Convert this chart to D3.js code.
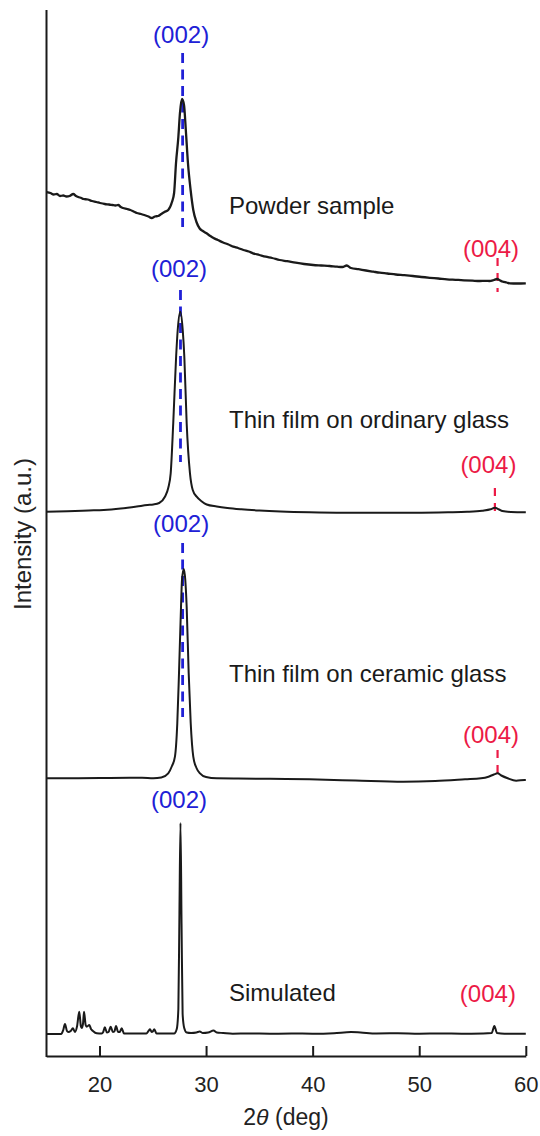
<!DOCTYPE html>
<html>
<head>
<meta charset="utf-8">
<script src="https://cdn.jsdelivr.net/npm/d3@7"></script>
<style>
  html, body { margin: 0; padding: 0; background: #ffffff; }
  svg { display: block; font-family: "Liberation Sans", Arial, sans-serif; }
</style>
</head>
<body>
<svg id="chart" width="540" height="1136"></svg>
<script>
// XRD patterns, 2θ in degrees, intensity in arbitrary units (each trace stacked by its offset)
const seriesNames = ["Powder sample", "Thin film on ordinary glass", "Thin film on ceramic glass", "Simulated"];
const seriesOffsets = [773, 544, 277, 22];

const powder = [
  [15.05, 91], [15.4, 90], [15.7, 88.5], [16.0, 89], [16.3, 87], [16.6, 87.5], [16.9, 86.5],
  [17.2, 87], [17.54, 89], [17.8, 87], [18.0, 86], [18.3, 85], [18.5, 84], [18.9, 83.5],
  [19.3, 82], [19.7, 81], [20.05, 80], [20.5, 79], [20.9, 78.5], [21.2, 78], [21.5, 77.5],
  [21.76, 78], [22.0, 76], [22.2, 75], [22.6, 74], [22.9, 73], [23.2, 71.5], [23.5, 70],
  [23.9, 69], [24.2, 68], [24.6, 66.5], [24.9, 65], [25.2, 66.5], [25.5, 67], [25.8, 69],
  [26.1, 71], [26.45, 73], [26.8, 81], [27.0, 90], [27.18, 120], [27.4, 146], [27.55, 170],
  [27.74, 184], [27.93, 178], [28.1, 153], [28.3, 120], [28.55, 93], [28.8, 73], [29.1, 61],
  [29.4, 54.5], [29.7, 52], [30.0, 50], [30.4, 47], [30.7, 45], [31.1, 43], [31.6, 40.5],
  [32.1, 38.5], [32.55, 36.3], [33.0, 35], [33.5, 33], [34.0, 31.5], [34.4, 29.7], [35.0, 28],
  [35.6, 26.3], [36.2, 25], [36.9, 23], [37.6, 21.8], [38.4, 20.3], [39.2, 19], [40.05, 18],
  [40.8, 17.5], [41.6, 17], [42.3, 16.3], [42.8, 16], [43.2, 17.5], [43.6, 15], [44.3, 13.8],
  [45.0, 12.5], [45.7, 11.3], [46.3, 10.3], [47.0, 9.5], [47.8, 8.5], [48.6, 7.8], [49.4, 7],
  [50.2, 6], [51.0, 5.2], [51.8, 4.5], [52.6, 3.7], [53.4, 3.2], [54.2, 2.7], [55.0, 2.3],
  [55.7, 2], [56.2, 2.2], [56.6, 2], [57.0, 3], [57.3, 4], [57.6, 2.5], [57.8, 1.5],
  [58.2, 0.5], [58.5, -0.3], [59.2, -0.5], [60.0, -0.3]
];

const ordinaryGlass = [
  [15.0, 0.3], [17.0, 0.8], [19.0, 1.5], [20.4, 2], [22.0, 3.5], [23.5, 5.5], [24.5, 7],
  [25.05, 7.5], [25.6, 9], [26.14, 15.3], [26.45, 24], [26.68, 38.7], [26.92, 88.7],
  [27.19, 155.3], [27.34, 182], [27.58, 200.3], [27.81, 182], [27.96, 155.3], [28.18, 88.7],
  [28.49, 38.7], [28.75, 22], [29.12, 15.3], [29.6, 10.5], [30.06, 7.5], [31.0, 5.5],
  [32.0, 4], [33.3, 2.7], [35.0, 1.5], [37.0, 0.5], [39.7, -0.3], [43.0, -0.7], [46.2, -0.7],
  [49.5, -0.7], [52.7, -0.3], [54.5, 0.2], [55.9, 1.3], [56.7, 2.7], [57.1, 4.3], [57.5, 2.5],
  [57.8, 1], [58.6, 0], [59.8, -0.3], [60.0, -0.3]
];

const ceramicGlass = [
  [15.0, 0.7], [18.0, 0.8], [21.0, 1], [24.0, 1.2], [25.05, 0.7], [25.8, 1.5], [26.45, 5.7],
  [26.8, 13], [27.08, 22.3], [27.30, 55.7], [27.46, 105.7], [27.65, 172.3], [27.74, 199],
  [27.91, 210], [28.05, 199], [28.18, 172.3], [28.37, 105.7], [28.56, 55.7], [28.80, 22.3],
  [29.1, 11], [29.43, 5.7], [30.0, 2], [31.0, 0.7], [33.0, 0.5], [36.0, 0.2], [39.7, -0.3],
  [44.0, -1.5], [48.5, -2.7], [51.5, -2], [54.3, -0.3], [55.8, 0.7], [56.5, 2.3], [57.0, 4.5],
  [57.35, 5.7], [57.7, 3.5], [58.3, 0.7], [59.1, -1.7], [59.9, -1], [60.0, -1]
];

const simulated = [
  [15.0, 0], [16.4, 0], [16.6, 4], [16.76, 10], [16.95, 3], [17.07, 2], [17.3, 3], [17.5, 5.7],
  [17.7, 2], [17.9, 8], [18.1, 22.3], [18.25, 8], [18.33, 6], [18.45, 10], [18.55, 22.3],
  [18.7, 9], [18.8, 7.3], [19.05, 9], [19.2, 5], [19.36, 3.3], [19.74, 0.7], [20.2, 0.5],
  [20.35, 2], [20.5, 6.7], [20.7, 1.5], [20.85, 2], [21.05, 7.3], [21.25, 2], [21.4, 2.5],
  [21.55, 8], [21.75, 2], [21.9, 2], [22.08, 5.7], [22.3, 0.5], [24.4, 0.5], [24.6, 3],
  [24.74, 4.7], [24.9, 2], [25.0, 2.5], [25.14, 4.7], [25.35, 0.5], [27.0, 0.5], [27.25, 5],
  [27.4, 25], [27.5, 120], [27.6, 211], [27.7, 110], [27.8, 20], [27.95, 6], [28.18, 1.5],
  [28.6, 1], [29.1, 1.5], [29.4, 2.5], [29.7, 1], [30.2, 1.5], [30.7, 3.5], [31.0, 1.5],
  [31.6, 1], [32.5, 0.3], [34.0, 0.5], [36.0, 0.3], [38.0, 0.5], [40.0, 0.3], [42.0, 0.8],
  [43.6, 2], [44.5, 1.5], [46.0, 0.5], [48.0, 0.7], [50.0, 0.3], [52.0, 0.5], [54.0, 0.3],
  [56.0, 0.5], [56.8, 1], [57.05, 8], [57.3, 1], [58.0, 0.3], [60.0, 0.3]
];

const seriesData = [powder, ordinaryGlass, ceramicGlass, simulated];

// Reflection positions (2θ) for (002) and (004) per trace
const peak002 = [27.8, 27.6, 27.8, 27.6];
const peak004 = [57.35, 57.1, 57.35, 57.05];
const label002 = "(002)";
const label004 = "(004)";

const xTicks = [20, 30, 40, 50, 60];
const xDomain = [15, 60];
const yDomain = [0, 1046];

// ---- layout ----
const plot = { left: 46.2, right: 525.8, top: 10, bottom: 1056 };
const blue = "#2020d6";
const red = "#ec1a46";
const ink = "#1a1a1a";

const svg = d3.select("#chart");
const x = d3.scaleLinear().domain(xDomain).range([plot.left, plot.right]);
const y = d3.scaleLinear().domain(yDomain).range([plot.bottom, plot.top]);

// Annotation placement per trace: label baselines and dash spans (in px)
const ann = [
  { nameY: 214, l002: 43,  d002: [53, 227],  l004: 257, d004: [258, 292], dash004: true, dash002: true },
  { nameY: 428, l002: 277, d002: [290, 462], l004: 473, d004: [488, 515], dash004: true, dash002: true },
  { nameY: 682, l002: 532, d002: [543, 717], l004: 743, d004: [750, 779], dash004: true, dash002: true },
  { nameY: 1001, l002: 808, d002: null,      l004: 1002, d004: null,      dash004: false, dash002: false }
];

// dashed guides for (002) / (004)
seriesData.forEach((_, i) => {
  const a = ann[i];
  if (a.dash002) {
    svg.append("line")
      .attr("x1", x(peak002[i])).attr("x2", x(peak002[i]))
      .attr("y1", a.d002[0]).attr("y2", a.d002[1])
      .attr("stroke", blue).attr("stroke-width", 2.8)
      .attr("stroke-dasharray", "10,6.5");
  }
  if (a.dash004) {
    svg.append("line")
      .attr("x1", x(peak004[i])).attr("x2", x(peak004[i]))
      .attr("y1", a.d004[0]).attr("y2", a.d004[1])
      .attr("stroke", red).attr("stroke-width", 2.2)
      .attr("stroke-dasharray", "8,7");
  }
});

// traces
const line = d3.line().curve(d3.curveMonotoneX);
seriesData.forEach((data, i) => {
  const off = seriesOffsets[i];
  svg.append("path")
    .datum(data)
    .attr("fill", "none")
    .attr("stroke", ink)
    .attr("stroke-width", i === 0 ? 2.3 : 2)
    .attr("stroke-linejoin", "round")
    .attr("d", line.x(d => x(d[0])).y(d => y(d[1] + off)));
});

// trace names and reflection labels
seriesNames.forEach((name, i) => {
  const a = ann[i];
  svg.append("text")
    .attr("x", 229).attr("y", a.nameY)
    .attr("font-size", 24).attr("fill", ink)
    .text(name);
  svg.append("text")
    .attr("x", x(peak002[i]) - 1.5).attr("y", a.l002)
    .attr("text-anchor", "middle")
    .attr("font-size", 24).attr("fill", blue)
    .text(label002);
  svg.append("text")
    .attr("x", x(peak004[i]) - 6.5).attr("y", a.l004)
    .attr("text-anchor", "middle")
    .attr("font-size", 24).attr("fill", red)
    .text(label004);
});

// axes
const xAxis = d3.axisBottom(x)
  .tickValues(xTicks)
  .tickSizeInner(-10)
  .tickSizeOuter(0)
  .tickPadding(20);

const gx = svg.append("g")
  .attr("transform", `translate(0,${plot.bottom})`)
  .call(xAxis);
gx.select(".domain").attr("stroke", ink).attr("stroke-width", 2);
gx.selectAll(".tick line").attr("stroke", ink).attr("stroke-width", 2);
gx.selectAll(".tick text")
  .attr("font-size", 22)
  .attr("font-family", "Liberation Sans, Arial, sans-serif")
  .attr("fill", "#222");

// left axis line (no ticks)
svg.append("line")
  .attr("x1", plot.left + 0.3).attr("x2", plot.left + 0.3)
  .attr("y1", plot.top).attr("y2", plot.bottom + 1)
  .attr("stroke", ink).attr("stroke-width", 2);

// axis titles
const xt = svg.append("text")
  .attr("x", (plot.left + plot.right) / 2)
  .attr("y", 1125)
  .attr("text-anchor", "middle")
  .attr("font-size", 23)
  .attr("fill", "#222");
xt.append("tspan").text("2");
xt.append("tspan").attr("font-style", "italic").text("θ");
xt.append("tspan").text(" (deg)");

svg.append("text")
  .attr("transform", "translate(31,534) rotate(-90)")
  .attr("text-anchor", "middle")
  .attr("font-size", 24)
  .attr("fill", "#222")
  .text("Intensity (a.u.)");
</script>
</body>
</html>
